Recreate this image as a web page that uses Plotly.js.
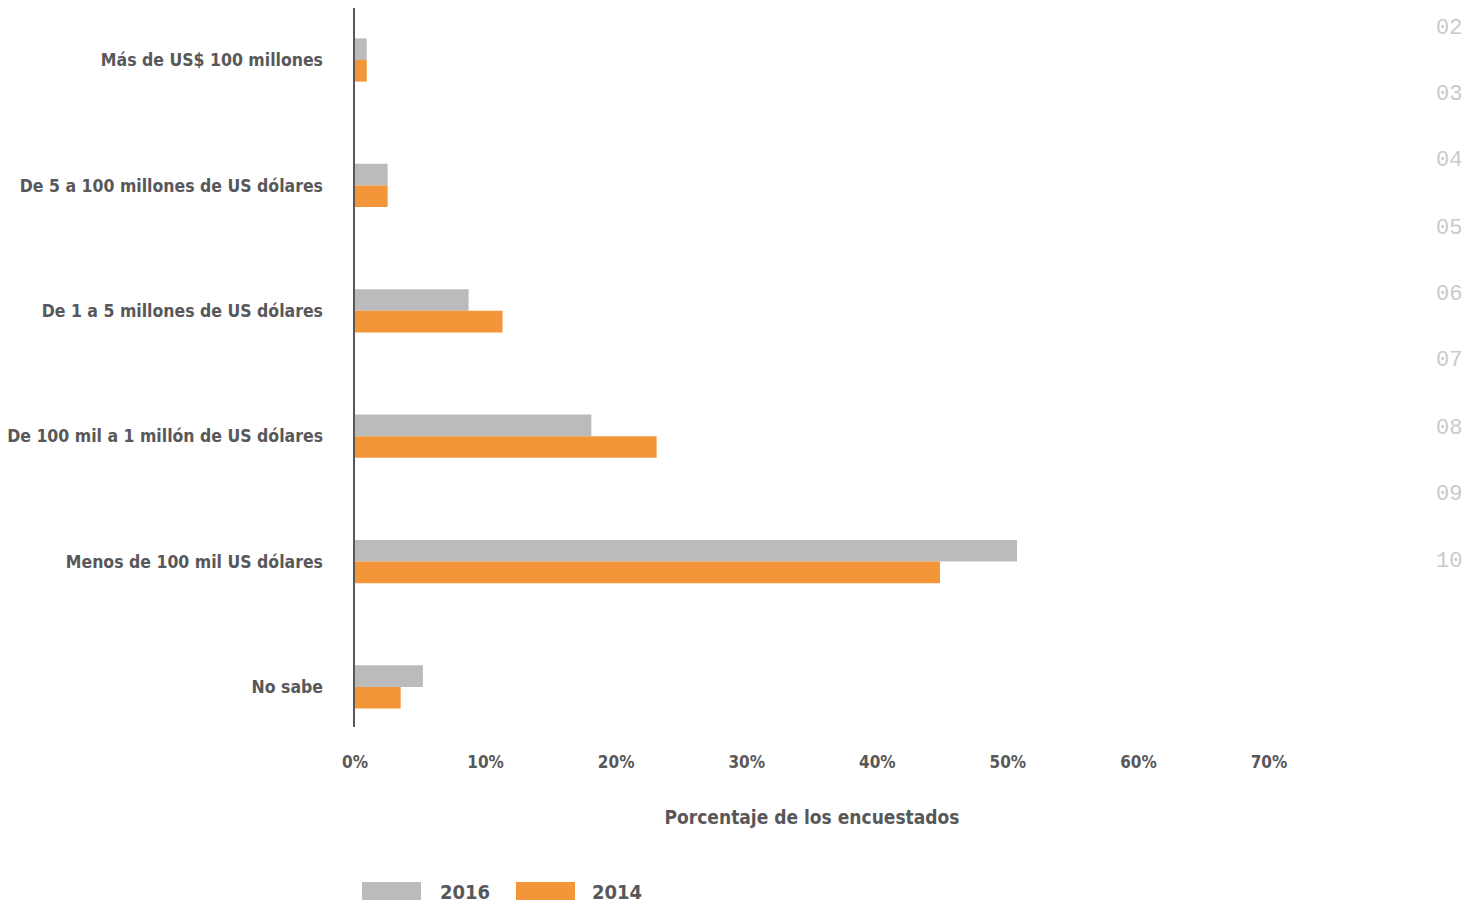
<!DOCTYPE html>
<html>
<head>
<meta charset="utf-8">
<script src="https://cdn.plot.ly/plotly-3.0.1.min.js"></script>
<style>
html,body{margin:0;padding:0;background:#fff;}
#chart{width:1479px;height:907px;}
</style>
</head>
<body>
<div id="chart"></div>
<script>
// ---- data ----
const categories = [
  "Más de US$ 100 millones",
  "De 5 a 100 millones de US dólares",
  "De 1 a 5 millones de US dólares",
  "De 100 mil a 1 millón de US dólares",
  "Menos de 100 mil US dólares",
  "No sabe"
];
const seriesNames = ["2016", "2014"];
const values2016 = [0.9, 2.5, 8.7, 18.1, 50.7, 5.2];
const values2014 = [0.9, 2.5, 11.3, 23.1, 44.8, 3.5];
const xTickVals = [0, 10, 20, 30, 40, 50, 60, 70];
const xTickText = ["0%", "10%", "20%", "30%", "40%", "50%", "60%", "70%"];
const sideLabels = ["02", "03", "04", "05", "06", "07", "08", "09", "10"];
const xTitle = "Porcentaje de los encuestados";

// ---- style ----
const W = 1479, H = 907;
const M = {l: 355, r: 210, t: 8, b: 180};
const plotW = W - M.l - M.r, plotH = H - M.t - M.b;
const px2x = p => (p - M.l) / plotW;
const px2y = p => (H - M.b - p) / plotH;
const FONT = "'DejaVu Sans Condensed', 'Liberation Sans Narrow', sans-serif";
const TXT = "#58585a";
const colors = ["#bbbbbb", "#f39639"];

const traces = [
  {type: "bar", orientation: "h", name: seriesNames[0], y: categories, x: values2016,
   marker: {color: colors[0]}, hoverinfo: "x+y"},
  {type: "bar", orientation: "h", name: seriesNames[1], y: categories, x: values2014,
   marker: {color: colors[1]}, hoverinfo: "x+y"}
];

const annotations = [];
const sideY = [28, 94, 161, 228, 294, 361, 428, 494, 561];
sideLabels.forEach((t, i) => annotations.push({
  text: t, xref: "paper", yref: "paper", x: px2x(1464), y: px2y(sideY[i]),
  xanchor: "right", yanchor: "middle", showarrow: false,
  font: {family: "'Liberation Mono', 'DejaVu Sans Mono', monospace", size: 22, color: "#cacaca"}
}));

// manual legend
const shapes = [];
const legX = [362, 516];
const legTextX = [438, 590];
seriesNames.forEach((n, i) => {
  shapes.push({type: "rect", xref: "paper", yref: "paper",
    x0: px2x(legX[i]), x1: px2x(legX[i] + 59), y0: px2y(900), y1: px2y(882),
    fillcolor: colors[i], line: {width: 0}});
  annotations.push({text: "<b>" + n + "</b>", xref: "paper", yref: "paper",
    x: px2x(legTextX[i]), y: px2y(892), xanchor: "left", yanchor: "middle", showarrow: false,
    font: {family: FONT, size: 20, color: TXT}});
});

const layout = {
  width: W, height: H,
  margin: M,
  paper_bgcolor: "#fff", plot_bgcolor: "#fff",
  barmode: "group", bargap: 0.655, bargroupgap: 0,
  showlegend: false,
  font: {family: FONT, color: TXT},
  xaxis: {
    range: [0, 70], tickvals: xTickVals, ticktext: xTickText.map(t => "<b>" + t + "</b>"),
    showgrid: false, zeroline: false, showline: false,
    ticks: "outside", ticklen: 20, tickcolor: "rgba(0,0,0,0)",
    tickfont: {family: FONT, size: 17, color: TXT},
    title: {text: "<b>" + xTitle + "</b>", font: {family: FONT, size: 19, color: TXT}, standoff: 39},
    fixedrange: true
  },
  yaxis: {
    type: "category", categoryorder: "array", categoryarray: categories,
    range: [5.32, -0.415],
    tickvals: categories, ticktext: categories.map(c => "<b>" + c + "</b>"),
    showgrid: false, zeroline: false,
    showline: true, linecolor: "#58585a", linewidth: 2.5,
    ticks: "outside", ticklen: 26, tickcolor: "rgba(0,0,0,0)",
    tickfont: {family: FONT, size: 17.5, color: TXT},
    automargin: false, fixedrange: true
  },
  annotations: annotations,
  shapes: shapes
};

Plotly.newPlot("chart", traces, layout, {displayModeBar: false, staticPlot: true});
</script>
</body>
</html>
